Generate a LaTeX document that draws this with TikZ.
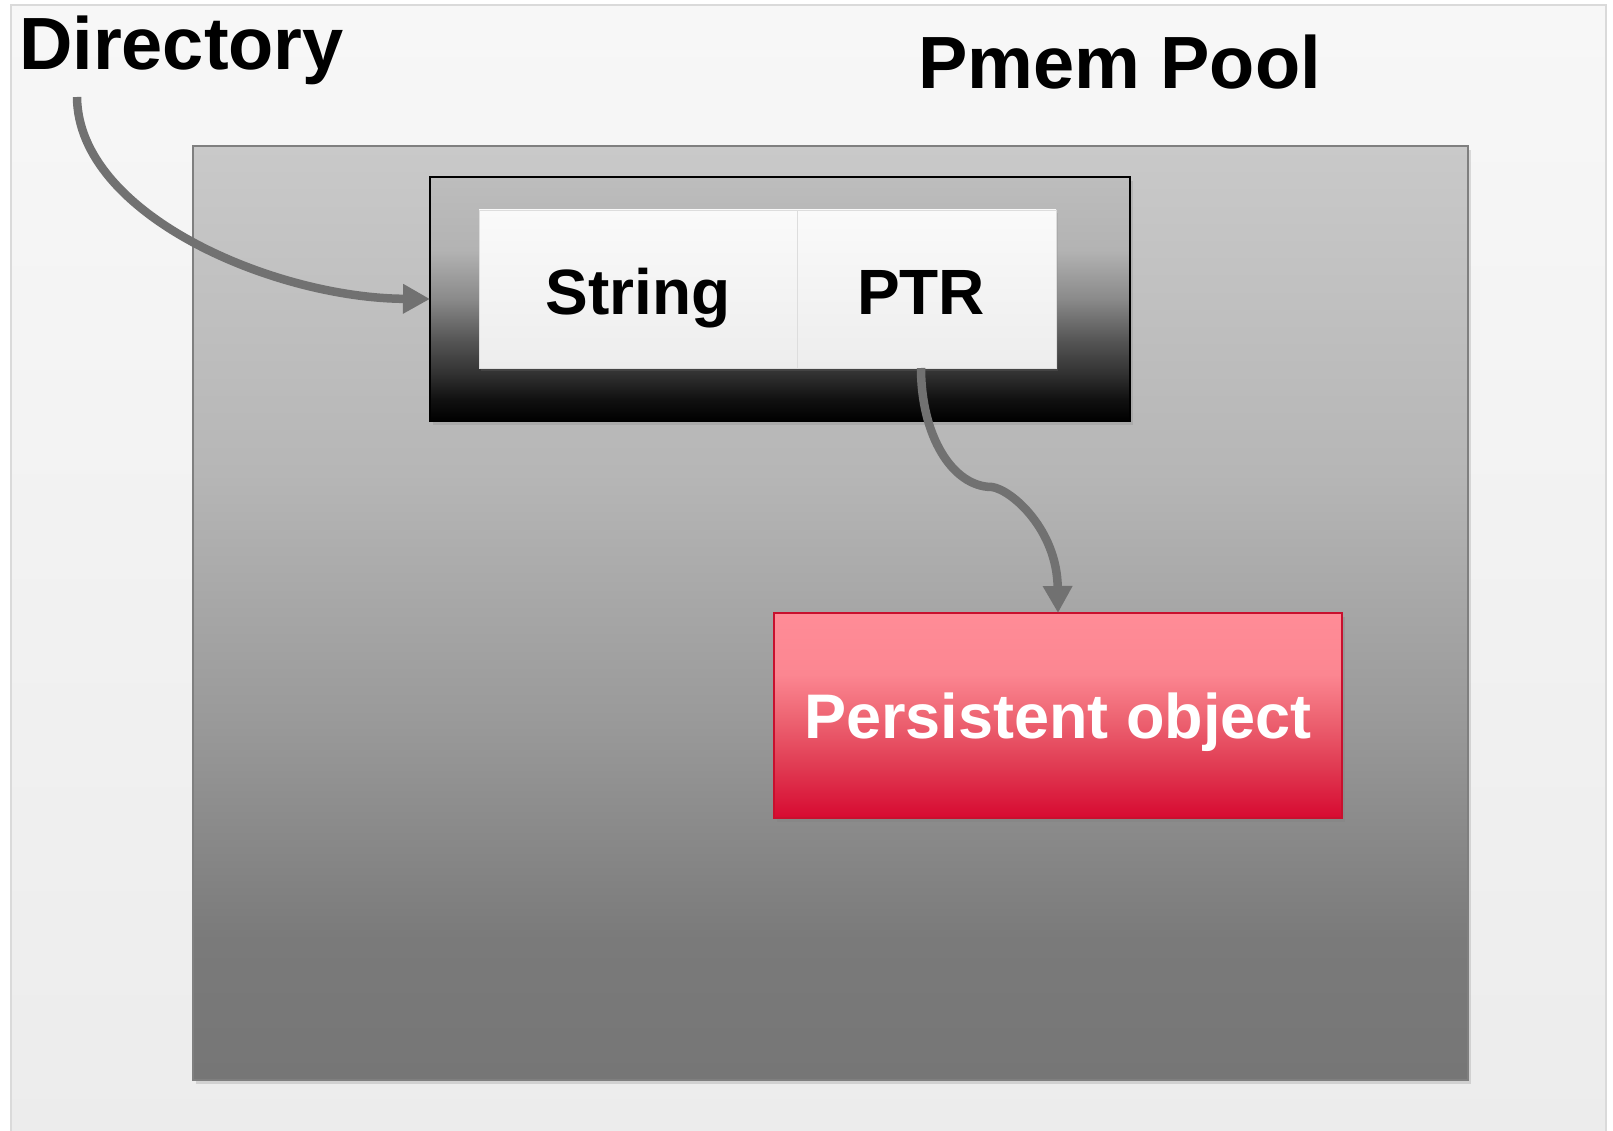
\documentclass[tikz,border=0pt]{standalone}
\usepackage{fontspec}
\setmainfont{Liberation Sans}
\usetikzlibrary{arrows.meta,shadows}

\definecolor{arrowgray}{HTML}{717171}
\definecolor{panelTop}{HTML}{F7F7F7}
\definecolor{panelBot}{HTML}{ECECEC}
\definecolor{panelLine}{HTML}{DADADA}
\definecolor{poolA}{HTML}{C9C9C9}
\definecolor{poolB}{HTML}{B6B6B6}
\definecolor{poolC}{HTML}{999999}
\definecolor{poolD}{HTML}{7A7A7A}
\definecolor{poolE}{HTML}{767676}
\definecolor{poolLine}{HTML}{7F7F7F}
\definecolor{contA}{HTML}{BDBDBD}
\definecolor{contB}{HTML}{B3B3B3}
\definecolor{contC}{HTML}{8A8A8A}
\definecolor{contD}{HTML}{555555}
\definecolor{contE}{HTML}{333333}
\definecolor{contF}{HTML}{111111}
\definecolor{cellTop}{HTML}{FAFAFA}
\definecolor{cellBot}{HTML}{EDEDED}
\definecolor{cellLine}{HTML}{DDDDDD}
\definecolor{objA}{HTML}{FF8C97}
\definecolor{objB}{HTML}{FC8691}
\definecolor{objC}{HTML}{EE6674}
\definecolor{objD}{HTML}{E03A52}
\definecolor{objE}{HTML}{D70A31}
\definecolor{objLine}{HTML}{C8102E}

\pgfdeclareverticalshading{poolshade}{100bp}{color(0bp)=(poolE); color(25bp)=(poolE); color(32.5bp)=(poolD); color(44bp)=(poolC); color(57.5bp)=(poolB); color(75bp)=(poolA); color(100bp)=(poolA)}
\pgfdeclareverticalshading{contshade}{100bp}{color(0bp)=(black); color(25bp)=(black); color(29.5bp)=(contF); color(35bp)=(contE); color(41.5bp)=(contD); color(50bp)=(contC); color(60bp)=(contB); color(75bp)=(contA); color(100bp)=(contA)}
\pgfdeclareverticalshading{objshade}{100bp}{color(0bp)=(objE); color(25bp)=(objE); color(37.5bp)=(objD); color(50bp)=(objC); color(60bp)=(objB); color(75bp)=(objA); color(100bp)=(objA)}

\begin{document}
\begin{tikzpicture}[x=1pt,y=-1pt,
  box/.style={inner sep=0pt, outer sep=0pt, anchor=center},
  panelbox/.style={box, draw=panelLine, line width=1.5pt, top color=panelTop, bottom color=panelBot},
  poolbox/.style={box, draw=poolLine, line width=1.2pt, shading=poolshade,
    drop shadow={opacity=0.25, shadow xshift=3pt, shadow yshift=-4pt}},
  contbox/.style={box, draw=black, line width=1.5pt, shading=contshade,
    drop shadow={opacity=0.25, shadow xshift=3pt, shadow yshift=-4pt}},
  cellbox/.style={box, draw=cellLine, line width=0.8pt, top color=cellTop, bottom color=cellBot,
    drop shadow={opacity=0.2, shadow xshift=2pt, shadow yshift=-3pt},
    font=\fontsize{64}{70}\selectfont\bfseries, text height=52pt, text depth=0pt},
  objbox/.style={box, draw=objLine, line width=1.2pt, shading=objshade,
    drop shadow={opacity=0.3, shadow xshift=3pt, shadow yshift=-4pt},
    font=\fontsize{63}{70}\selectfont\bfseries, text=white, text height=46pt, text depth=0pt},
  title/.style={inner sep=0pt, outer sep=0pt, anchor=base west, font=\fontsize{74}{80}\selectfont\bfseries},
  conn/.style={draw=arrowgray, line width=8.5pt, -{Triangle[length=27pt,width=28pt]}}]

\useasboundingbox (0,0) rectangle (1613,1131);
\fill[white] (0,0) rectangle (1613,1131);

\node[panelbox, minimum width=1595pt, minimum height=1146pt] (panel) at (808.5,578) {};
\node[poolbox, minimum width=1275pt, minimum height=934pt] (pool) at (830.5,613) {};
\node[contbox, minimum width=700pt, minimum height=244pt] (cont) at (780,299) {};
\node[cellbox, minimum width=318pt, minimum height=158pt] (str) at (638,289) {String};
\node[cellbox, minimum width=259pt, minimum height=158pt] (ptr) at (926.5,289) {\hspace*{-11pt}PTR};
\node[objbox, minimum width=568pt, minimum height=205pt] (obj) at (1058,715.5) {Persistent object};

\node[title] (dir) at (19,70) {Directory};
\node[title] (pmem) at (918,89) {Pmem Pool};

\coordinate (dirstart) at (77,97);
\coordinate (ptrstart) at ([xshift=-5.5pt]ptr.south);

\draw[conn] (dirstart) .. controls (78,215) and (274,298) .. (cont.west);
\draw[conn] (ptrstart) .. controls (921,435) and (952,487) .. (992,487)
  .. controls (1012,490) and (1057,530) .. (obj.north);
\end{tikzpicture}
\end{document}
